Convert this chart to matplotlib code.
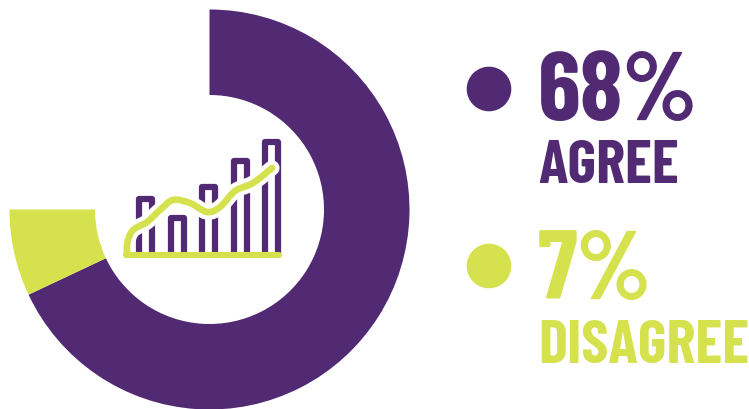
import matplotlib
matplotlib.use("Agg")
import matplotlib.pyplot as plt
from matplotlib.patches import Circle, PathPatch
from matplotlib.path import Path

PURPLE = "#522a74"
GREEN = "#d5e14d"

shares = [68, 7, 25]
share_colors = [PURPLE, GREEN, "none"]

pct_labels = ["68%", "7%"]
word_labels = ["AGREE", "DISAGREE"]
label_colors = [PURPLE, GREEN]

# little chart icon in the hole of the ring
icon_bar_left = [139, 170.5, 202, 233.5, 265]
icon_bar_top = [199, 218, 187, 161, 142]
icon_curve_x = [127, 127.5, 133, 147, 160, 173, 190, 207, 220, 235, 253, 272]
icon_curve_y = [254, 242, 230, 222, 210, 200, 203, 212, 207, 191, 183, 168]


def smooth_path(xs, ys):
    # catmull-rom segments turned into cubic beziers
    pts = list(zip(xs, ys))
    verts = [pts[0]]
    codes = [Path.MOVETO]
    for i in range(len(pts) - 1):
        p0 = pts[max(i - 1, 0)]
        p1 = pts[i]
        p2 = pts[i + 1]
        p3 = pts[min(i + 2, len(pts) - 1)]
        c1 = (p1[0] + (p2[0] - p0[0]) / 6, p1[1] + (p2[1] - p0[1]) / 6)
        c2 = (p2[0] - (p3[0] - p1[0]) / 6, p2[1] - (p3[1] - p1[1]) / 6)
        verts += [c1, c2, p2]
        codes += [Path.CURVE4] * 3
    return Path(verts, codes)


plt.rcParams["font.family"] = ["Barlow Condensed", "Liberation Sans", "DejaVu Sans"]

fig = plt.figure(figsize=(7.49, 4.09), dpi=100)
ax = fig.add_axes([0, 0, 1, 1])

# y axis runs downward, so counterclock here goes clockwise on screen
ax.pie(shares, colors=share_colors, center=(209.5, 209.5), radius=200,
       startangle=-90, counterclock=True,
       wedgeprops={"width": 85.5, "linewidth": 0})
ax.set_xlim(0, 749)
ax.set_ylim(409, 0)
ax.set_aspect("equal")
ax.axis("off")

# hollow bars of the icon
for left, top in zip(icon_bar_left, icon_bar_top):
    ax.bar(left, top - 262, width=13, bottom=262, align="edge",
           facecolor="none", edgecolor=PURPLE, linewidth=4.5,
           joinstyle="round", zorder=3)

curve = smooth_path(icon_curve_x, icon_curve_y)
ax.add_patch(PathPatch(curve, fill=False, edgecolor="white", linewidth=11,
                       capstyle="round", zorder=4))
ax.plot([123, 285], [261.5, 261.5], color="white", linewidth=10, zorder=4)
ax.plot([126, 279], [255.3, 255.3], color=GREEN, linewidth=4.4,
        solid_capstyle="round", zorder=5)
ax.add_patch(PathPatch(curve, fill=False, edgecolor=GREEN, linewidth=4.8,
                       capstyle="round", zorder=5))

# legend dots and labels
dot_y = [89, 266]
pct_y = [120, 299]
word_y = [183, 363]
for i in range(2):
    ax.add_patch(Circle((489, dot_y[i]), 22.3, facecolor=label_colors[i], edgecolor="none"))
    ax.text(538, pct_y[i], pct_labels[i], color=label_colors[i], fontsize=70,
            fontweight="bold", va="baseline", ha="left")
    ax.text(538, word_y[i], word_labels[i], color=label_colors[i], fontsize=44,
            fontweight="bold", va="baseline", ha="left")

fig.savefig("out.png", dpi=100)
